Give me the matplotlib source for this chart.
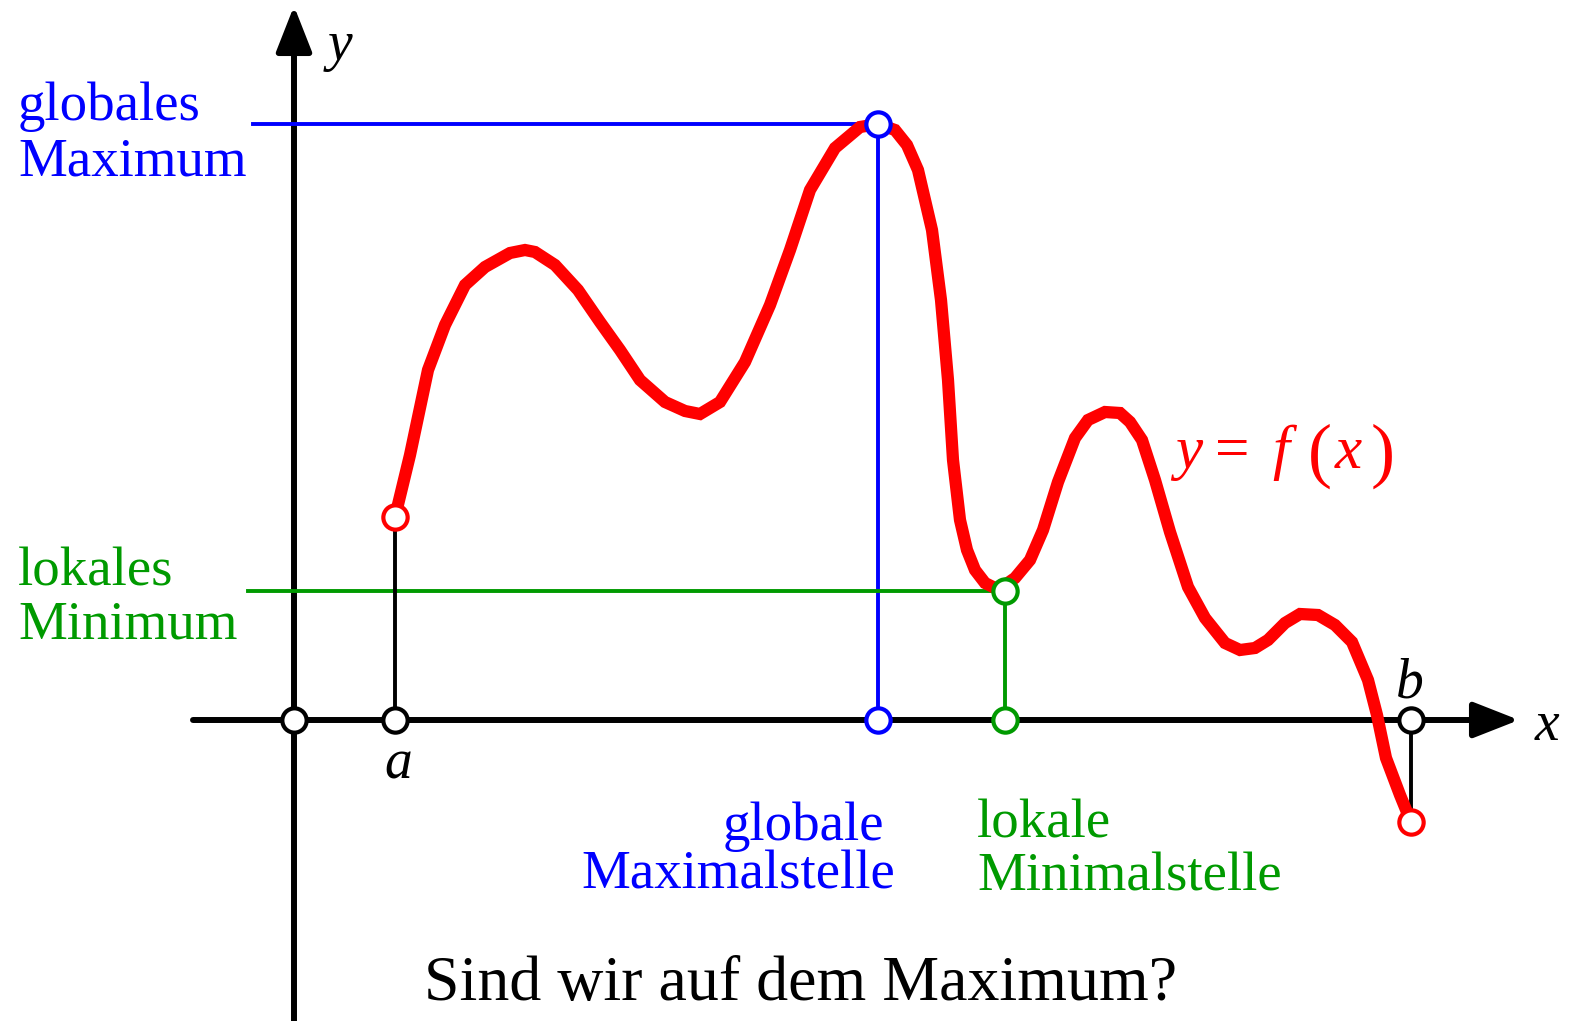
import matplotlib
matplotlib.use("Agg")
import matplotlib.pyplot as plt

# ---- data (diagram units, origin at the axes crossing) ----
curve_x = [101, 116, 134, 151, 171, 191, 216, 231, 241, 261, 284, 306, 326, 346, 371, 391, 406,
           426, 451, 476, 496, 516, 541, 566, 584, 601, 613, 624, 638, 647, 654, 659, 666, 673,
           681, 691, 701, 711, 721, 736, 749, 764, 781, 794, 811, 826, 836, 848, 861, 876, 894,
           911, 931, 946, 961, 974, 991, 1006, 1024, 1041, 1058, 1074, 1083, 1092, 1106, 1117]
curve_y = [203, 265, 350, 395, 435, 453, 467, 470, 468, 455, 430, 398, 370, 340, 318, 309, 306,
           318, 358, 415, 470, 530, 572, 593, 596, 590, 575, 550, 490, 420, 340, 260, 200, 170,
           150, 137, 132, 135, 142, 160, 190, 238, 282, 300, 308, 307, 298, 280, 240, 188, 133,
           102, 77, 70, 72, 80, 97, 106, 105, 95, 78, 40, 5, -38, -75, -102]

a_x, b_x = 101, 1117
fa, fb = 203, -102
xmax, ymax = 584, 596
xmin, ymin = 711, 129

title = "Sind wir auf dem Maximum?"

RED = "#ff0000"
BLUE = "#0000ff"
GREEN = "#009a00"

fig = plt.figure(figsize=(15.69, 10.21), dpi=100)
ax = fig.add_axes([0, 0, 1, 1])
ax.set_xlim(-294, 1569 - 294)
ax.set_ylim(720 - 1021, 720)
ax.axis('off')

# axes with arrows
arrow = dict(arrowstyle='-|>,head_length=28,head_width=11', mutation_scale=1,
             lw=4.3, color='black', shrinkA=0, shrinkB=0)
ax.annotate('', xy=(1225, 0), xytext=(-101, 0), arrowprops=arrow, zorder=2)
ax.annotate('', xy=(0, 714), xytext=(0, -301), arrowprops=arrow, zorder=2)

# helper lines
hl = 2.8
ax.plot([-41, xmax], [ymax, ymax], color=BLUE, lw=hl, zorder=3)
ax.plot([xmax, xmax], [0, ymax], color=BLUE, lw=hl, zorder=3)
ax.plot([-46, xmin], [ymin, ymin], color=GREEN, lw=hl, zorder=3)
ax.plot([xmin, xmin], [0, ymin], color=GREEN, lw=hl, zorder=3)
ax.plot([a_x, a_x], [0, fa], color='black', lw=hl, zorder=3)
ax.plot([b_x, b_x], [0, fb], color='black', lw=hl, zorder=3)

# curve
ax.plot(curve_x, curve_y, color=RED, lw=8.8, solid_joinstyle='miter', solid_capstyle='butt', zorder=4)

mk = dict(marker='o', ms=17.5, mew=3.0, mfc='white', ls='none', zorder=6)
ax.plot([0, a_x, b_x], [0, 0, 0], mec='black', **mk)
ax.plot([xmax, xmax], [0, ymax], mec=BLUE, **mk)
ax.plot([xmin, xmin], [0, ymin], mec=GREEN, **mk)
ax.plot([a_x, b_x], [fa, fb], mec=RED, **mk)

# texts
serif = 'Liberation Serif'
fs = 39.5
ax.text(-276, 600, "globales", color=BLUE, fontsize=fs, family=serif, va='baseline', ha='left')
ax.text(-276, 545, "Maximum", color=BLUE, fontsize=fs, family=serif, va='baseline', ha='left')
ax.text(-276, 135, "lokales", color=GREEN, fontsize=fs, family=serif, va='baseline', ha='left')
ax.text(-276, 82, "Minimum", color=GREEN, fontsize=fs, family=serif, va='baseline', ha='left')
ax.text(590, -120, "globale", color=BLUE, fontsize=fs, family=serif, va='baseline', ha='right')
ax.text(601, -168, "Maximalstelle", color=BLUE, fontsize=fs, family=serif, va='baseline', ha='right')
ax.text(683, -117, "lokale", color=GREEN, fontsize=fs, family=serif, va='baseline', ha='left')
ax.text(683, -170, "Minimalstelle", color=GREEN, fontsize=fs, family=serif, va='baseline', ha='left')
ax.text(507, -280, title, color='black', fontsize=46, family=serif, va='baseline', ha='center')

# y = f(x), set piece by piece
formula = [("y", 881, 252, 'italic', 44), ("=", 921, 252, 'normal', 44),
           ("f", 978, 252, 'italic', 44), ("(", 1014, 246, 'normal', 52),
           ("x", 1041, 252, 'italic', 44), (")", 1077, 246, 'normal', 52)]
for s, x0, y0, st, size in formula:
    ax.text(x0, y0, s, color=RED, fontsize=size, family=serif, style=st, va='baseline', ha='left')

ax.text(34, 660, "y", color='black', fontsize=40, family=serif, style='italic', va='baseline', ha='left')
ax.text(104, -58, "a", color='black', fontsize=40, family=serif, style='italic', va='baseline', ha='center')
ax.text(1116, 23, "b", color='black', fontsize=40, family=serif, style='italic', va='baseline', ha='center')
ax.text(1253, -20, "x", color='black', fontsize=40, family=serif, style='italic', va='baseline', ha='center')

fig.savefig("out.png", dpi=100, facecolor='white')
